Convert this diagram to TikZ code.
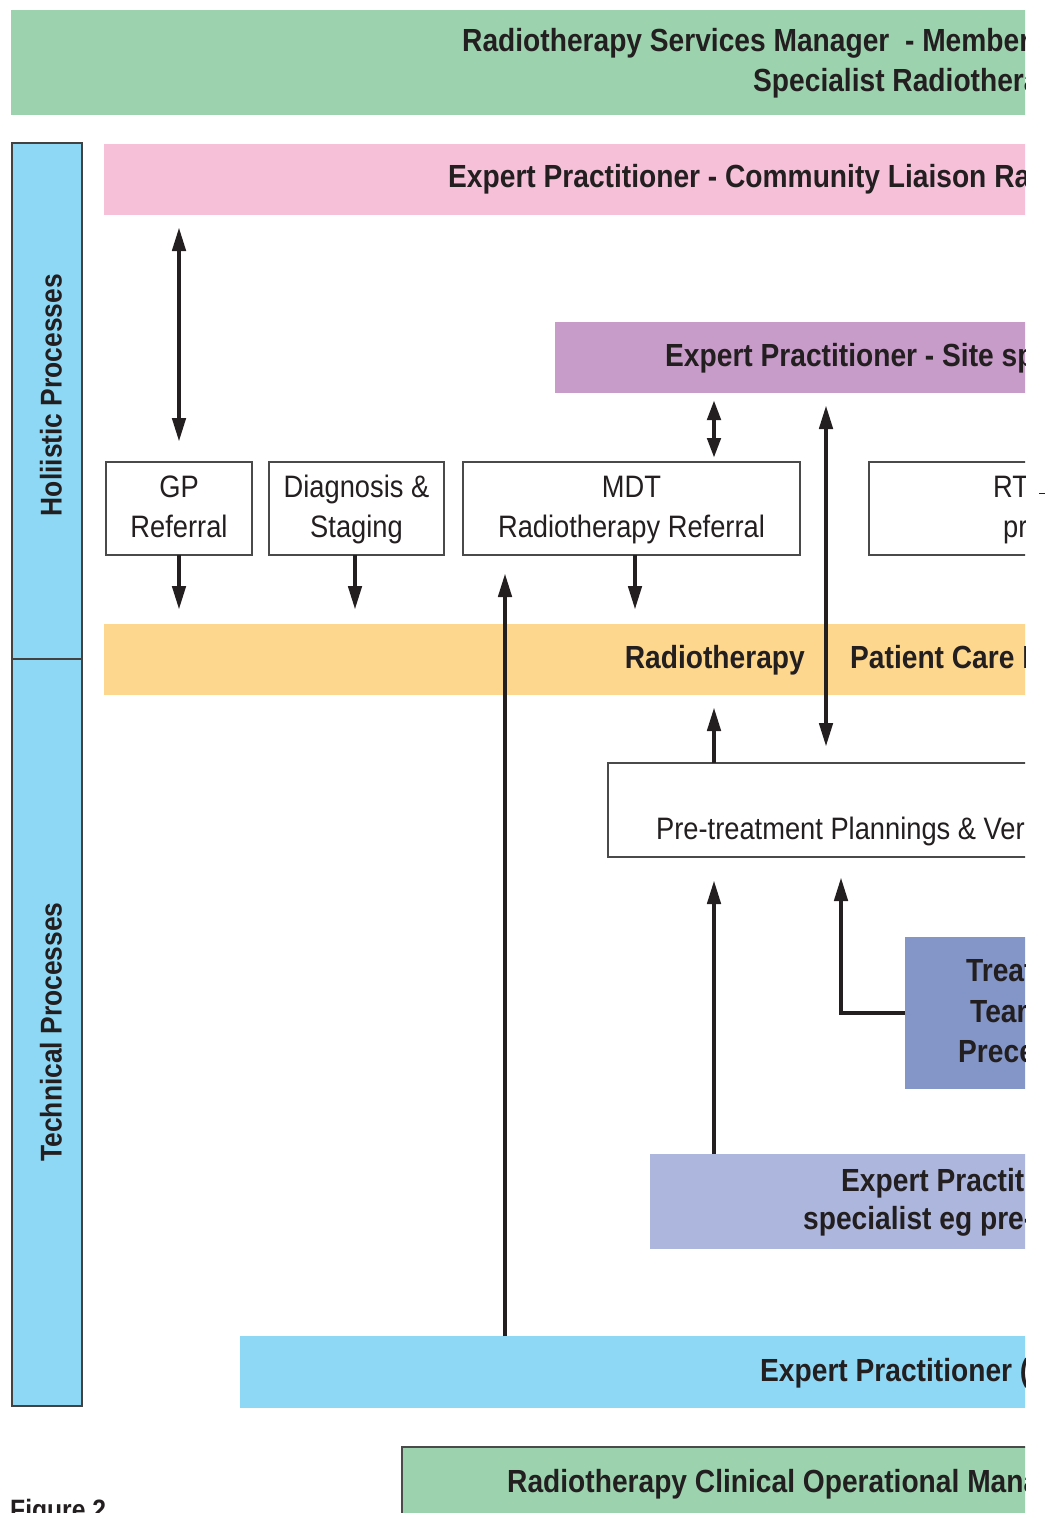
\documentclass[tikz,border=0pt]{standalone}
\usepackage{fontspec}
\setmainfont{Liberation Sans}[FakeStretch=0.88]
\usetikzlibrary{arrows.meta}
\definecolor{ink}{HTML}{231F20}
\definecolor{boxgray}{HTML}{4A4A4A}
\definecolor{greenband}{HTML}{9CD3AE}
\definecolor{pinkband}{HTML}{F5C0D8}
\definecolor{blueband}{HTML}{8ED8F5}
\definecolor{purpleband}{HTML}{C89CC8}
\definecolor{orangeband}{HTML}{FDD78E}
\definecolor{treatband}{HTML}{8496C8}
\definecolor{lilacband}{HTML}{ADB7DD}
\tikzset{
  band/.style={anchor=north west, inner sep=0pt, outer sep=0pt, draw=none},
  pbox/.style={anchor=north west, inner sep=0pt, outer sep=0pt, draw=boxgray, line width=1.5pt, fill=white},
  btxt/.style={inner sep=0pt, text=ink, font=\fontsize{32}{38}\selectfont\bfseries},
  rtxt/.style={inner sep=0pt, text=ink, font=\fontsize{31}{38}\selectfont},
  vtxt/.style={inner sep=0pt, text=ink, rotate=90, anchor=base, font=\fontsize{30}{36}\selectfont\bfseries},
  arr/.style={draw=ink, line width=4.5pt, -{Triangle[length=24pt,width=13pt]}},
  darr/.style={draw=ink, line width=4.5pt, {Triangle[length=24pt,width=13pt]}-{Triangle[length=24pt,width=13pt]}},
  sdarr/.style={draw=ink, line width=4.5pt, {Triangle[length=20pt,width=13pt]}-{Triangle[length=20pt,width=13pt]}},
}
\begin{document}
\begin{tikzpicture}[x=1pt,y=-1pt]
\useasboundingbox (0,0) rectangle (1045,1513);
\begin{scope}
\clip (0,0) rectangle (1025,1513);
% column x positions
\coordinate (c505) at (505,0);
\coordinate (c714) at (714,0);
\coordinate (c826) at (826,0);
\coordinate (c841) at (841,0);
% bands
\node[band, fill=greenband, minimum width=1100pt, minimum height=105pt] (topgreen) at (11,10) {};
\node[band, fill=blueband, draw=ink!85, line width=1.2pt, minimum width=70pt, minimum height=516pt] (holbar) at (12,143) {};
\node[band, fill=blueband, draw=ink!85, line width=1.2pt, minimum width=70pt, minimum height=747pt] (techbar) at (12,659) {};
\node[band, fill=pinkband, minimum width=1000pt, minimum height=71pt] (pink) at (104,144) {};
\node[band, fill=purpleband, minimum width=600pt, minimum height=71pt] (purple) at (555,322) {};
\node[band, fill=orangeband, minimum width=1000pt, minimum height=71pt] (orange) at (104,624) {};
\node[band, fill=treatband, minimum width=300pt, minimum height=152pt] (treat) at (905,937) {};
\node[band, fill=lilacband, minimum width=500pt, minimum height=95pt] (eplight) at (650,1154) {};
\node[band, fill=blueband, minimum width=900pt, minimum height=72pt] (bblue) at (240,1336) {};
\node[band, fill=greenband, draw=boxgray, line width=1.5pt, minimum width=800pt, minimum height=90pt] (bgreen) at (402,1447) {};
% process boxes
\node[pbox, minimum width=146pt, minimum height=93pt] (gp) at (106,462) {};
\node[pbox, minimum width=175pt, minimum height=93pt] (diag) at (269,462) {};
\node[pbox, minimum width=337pt, minimum height=93pt] (mdt) at (463,462) {};
\node[pbox, minimum width=300pt, minimum height=93pt] (rt) at (869,462) {};
\node[pbox, minimum width=600pt, minimum height=94pt] (pre) at (608,763) {};
% texts
\node[btxt, anchor=base west] (t1) at (462,51.5) {Radiotherapy Services Manager\ \ - Member};
\node[btxt, anchor=base west] (t2) at (753,91.5) {Specialist Radiotherapy};
\node[btxt, anchor=base west] (tpink) at (448,187.3) {Expert Practitioner - Community Liaison Radiographer};
\node[btxt, anchor=base west] (tpurple) at (665,366) {Expert Practitioner - Site specific};
\node[rtxt, anchor=base] (tgp1) at (179,497) {GP};
\node[rtxt, anchor=base] (tgp2) at (179,537) {Referral};
\node[rtxt, anchor=base] (tdg1) at (356.5,497) {Diagnosis \&};
\node[rtxt, anchor=base] (tdg2) at (356.5,537) {Staging};
\node[rtxt, anchor=base] (tmdt1) at (631.5,497) {MDT};
\node[rtxt, anchor=base] (tmdt2) at (631.5,537) {Radiotherapy Referral};
\node[rtxt, anchor=base west] (trt1) at (993,497) {RT};
\node[rtxt, anchor=base west] (trt2) at (1003,537) {pre};
\node[btxt, anchor=base east] (tor1) at (805,668) {Radiotherapy};
\node[btxt, anchor=base west] (tor2) at (850,668) {Patient Care Pathway};
\node[rtxt, anchor=base west] (tpre) at (656,839) {Pre-treatment Plannings \& Verification};
\node[btxt, anchor=base west] (ttr1) at (966,981) {Treatment};
\node[btxt, anchor=base west] (ttr2) at (970,1022) {Team};
\node[btxt, anchor=base west] (ttr3) at (958,1062) {Preceptor};
\node[btxt, anchor=base west] (tep1) at (841,1191) {Expert Practitioner};
\node[btxt, anchor=base west] (tep2) at (803,1229) {specialist eg pre-treatment};
\node[btxt, anchor=base west] (tbb) at (760,1381) {Expert Practitioner (Technical)};
\node[btxt, anchor=base west] (tbg) at (507,1492) {Radiotherapy Clinical Operational Management};
\node[vtxt] (thol) at (61.5,395) {Holiistic Processes};
\node[vtxt] (ttech) at (61.5,1032) {Technical Processes};
\node[inner sep=0pt, text=ink, anchor=base west, font=\fontsize{28}{34}\selectfont\bfseries] (fig) at (10,1519) {Figure 2};
% connectors
\draw[darr, shorten <=12pt, shorten >=20pt] (gp.north |- pink.south) -- (gp.north);
\draw[arr, shorten >=14pt] (gp.south) -- (gp.south |- orange.north);
\draw[arr, shorten >=14pt] ([xshift=-1.5pt]diag.south) -- ([xshift=-1.5pt]diag.south |- orange.north);
\draw[arr, shorten >=14pt] ([xshift=3.5pt]mdt.south) -- ([xshift=3.5pt]mdt.south |- orange.north);
\draw[sdarr, shorten <=7pt, shorten >=4pt] (c714 |- purple.south) -- (c714 |- mdt.north);
\draw[darr, shorten <=12pt, shorten >=16pt] (c826 |- purple.south) -- (c826 |- pre.north);
\draw[arr, shorten >=12pt] (c714 |- pre.north) -- (c714 |- orange.south);
\draw[arr, shorten >=23pt] (c714 |- eplight.north) -- (c714 |- pre.south);
\draw[arr, shorten >=20pt] (treat.west) -| (c841 |- pre.south);
\draw[arr, shorten >=18pt] (c505 |- bblue.north) -- (c505 |- mdt.south);
\end{scope}
\coordinate (rtout) at (1039,493);
\draw[ink, line width=1pt] (rtout) -- ++(6,0);
\end{tikzpicture}
\end{document}
